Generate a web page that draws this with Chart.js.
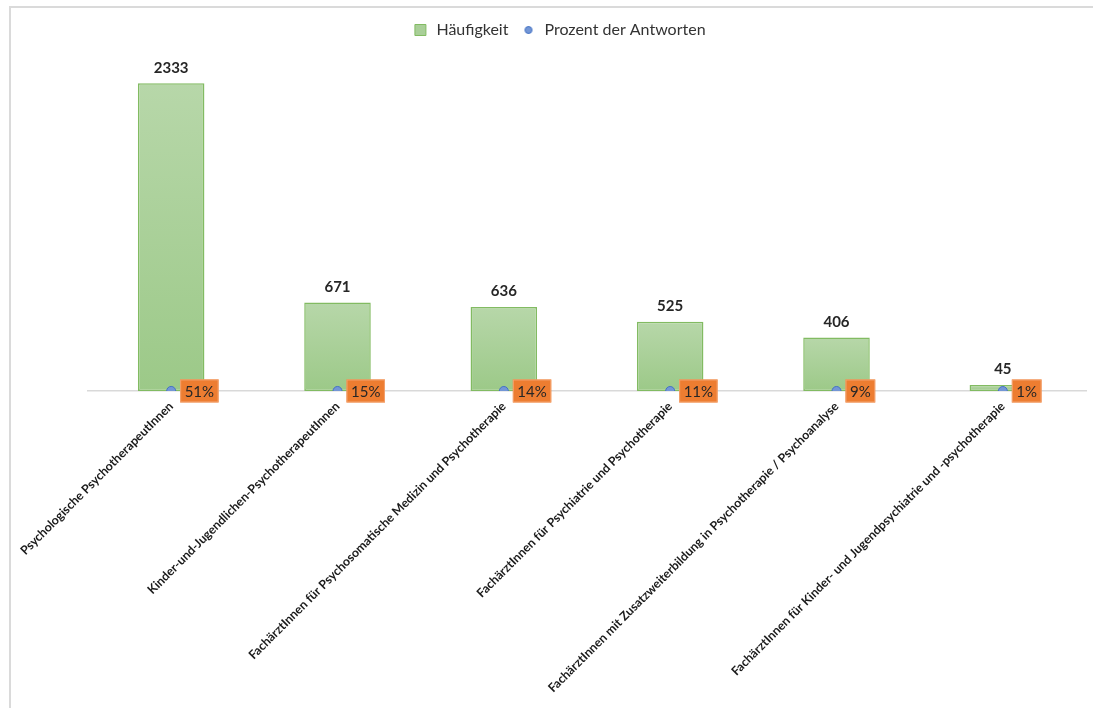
<!DOCTYPE html>
<html>
<head>
<meta charset="utf-8">
<script src="https://cdn.jsdelivr.net/npm/chart.js@4/dist/chart.umd.min.js"></script>
<style>
  html, body { margin: 0; padding: 0; background: #fff; }
  #wrap { position: relative; width: 1093px; height: 708px; overflow: hidden; }
  #frame {
    position: absolute; left: 9px; top: 6px; width: 1200px; height: 800px;
    border-left: 2px solid #dadada; border-top: 2px solid #dadada;
  }
  canvas { position: absolute; left: 0; top: 0; }
</style>
</head>
<body>
<div id="wrap">
  <div id="frame"></div>
  <canvas id="chart" width="1093" height="708"></canvas>
</div>
<script>
const categories = [
  "Psychologische PsychotherapeutInnen",
  "Kinder-und-Jugendlichen-PsychotherapeutInnen",
  "FachärztInnen für Psychosomatische Medizin und Psychotherapie",
  "FachärztInnen für Psychiatrie und Psychotherapie",
  "FachärztInnen mit Zusatzweiterbildung in Psychotherapie / Psychoanalyse",
  "FachärztInnen für Kinder- und Jugendpsychiatrie und -psychotherapie"
];
const frequency = [2333, 671, 636, 525, 406, 45];
const percentOfAnswers = [0.51, 0.15, 0.14, 0.11, 0.09, 0.01];

const FONT = "Lato, 'Open Sans', sans-serif";

function barGradient(context) {
  const chart = context.chart;
  const y = chart.scales.y;
  if (!y || !chart.chartArea || context.type !== "data") return "#a9cf98";
  const top = y.getPixelForValue(context.raw);
  const bottom = y.getPixelForValue(0);
  const g = chart.ctx.createLinearGradient(0, top, 0, bottom);
  g.addColorStop(0, "#b7d7a9");
  g.addColorStop(1, "#9cc988");
  return g;
}

// small blue dot for the legend
const dot = document.createElement("canvas");
dot.width = 10;
dot.height = 10;
(function () {
  const c = dot.getContext("2d");
  c.beginPath();
  c.arc(5, 5, 3.5, 0, Math.PI * 2);
  c.fillStyle = "#7396d6";
  c.fill();
  c.lineWidth = 1;
  c.strokeStyle = "#4472c4";
  c.stroke();
})();

const labelsPlugin = {
  id: "valueLabels",
  afterDatasetsDraw(chart) {
    const ctx = chart.ctx;
    ctx.save();
    // bar values
    const bars = chart.getDatasetMeta(0);
    ctx.font = "bold 15px " + FONT;
    ctx.fillStyle = "#262626";
    ctx.textAlign = "center";
    ctx.textBaseline = "bottom";
    bars.data.forEach((bar, i) => {
      ctx.fillText(String(frequency[i]), bar.x, bar.y - 8);
    });
    // percent boxes
    const pts = chart.getDatasetMeta(1);
    ctx.font = "15px " + FONT;
    ctx.textAlign = "left";
    ctx.textBaseline = "middle";
    pts.data.forEach((p, i) => {
      const txt = Math.round(percentOfAnswers[i] * 100) + "%";
      const w = ctx.measureText(txt).width + 9;
      const x0 = p.x + 9;
      ctx.fillStyle = "#ed7d31";
      ctx.fillRect(x0, p.y - 11.5, w, 23);
      ctx.strokeStyle = "#f4a36f";
      ctx.lineWidth = 1;
      ctx.strokeRect(x0 + 0.5, p.y - 11, w - 1, 22);
      ctx.fillStyle = "#262626";
      ctx.fillText(txt, x0 + 4.5, p.y + 1);
    });
    ctx.restore();
  }
};

new Chart(document.getElementById("chart"), {
  type: "bar",
  data: {
    labels: categories,
    datasets: [
      {
        label: "Häufigkeit",
        data: frequency,
        backgroundColor: barGradient,
        borderColor: "#82bb62",
        borderWidth: 1.5,
        borderSkipped: false,
        barPercentage: 0.4,
        categoryPercentage: 1,
        order: 1
      },
      {
        type: "line",
        label: "Prozent der Antworten",
        data: percentOfAnswers,
        showLine: false,
        pointRadius: 4.5,
        pointBackgroundColor: "#7396d6",
        pointBorderColor: "#4472c4",
        pointBorderWidth: 1,
        order: 0
      }
    ]
  },
  options: {
    responsive: false,
    animation: false,
    layout: { padding: { top: 10, left: 32, right: 7, bottom: 0 } },
    plugins: {
      tooltip: { enabled: false },
      legend: {
        position: "top",
        labels: {
          usePointStyle: true,
          boxHeight: 11,
          padding: 12,
          color: "#333333",
          font: { family: FONT, size: 16 },
          sort: (a, b) => a.datasetIndex - b.datasetIndex,
          generateLabels(chart) {
            const items = Chart.defaults.plugins.legend.labels.generateLabels(chart);
            items.forEach((it) => {
              if (it.datasetIndex === 0) {
                it.pointStyle = "rect";
                it.fillStyle = "#a9cf98";
                it.strokeStyle = "#82bb62";
                it.lineWidth = 1;
              } else {
                it.pointStyle = dot;
              }
            });
            return items;
          }
        }
      }
    },
    scales: {
      x: {
        offset: true,
        grid: { display: false, drawTicks: false },
        border: { display: true, color: "#d9d9d9", width: 1.5 },
        ticks: {
          autoSkip: false,
          minRotation: 45,
          maxRotation: 45,
          padding: 8,
          color: "#1a1a1a",
          font: { family: FONT, size: 12.3, weight: "bold" }
        },
        afterFit(scale) { scale.height = 317; }
      },
      y: {
        display: true,
        min: 0,
        max: 2600,
        grid: { display: false, drawTicks: false },
        border: { display: false },
        ticks: { display: false },
        afterFit(scale) { scale.width = 56; }
      }
    }
  },
  plugins: [labelsPlugin]
});
</script>
</body>
</html>
